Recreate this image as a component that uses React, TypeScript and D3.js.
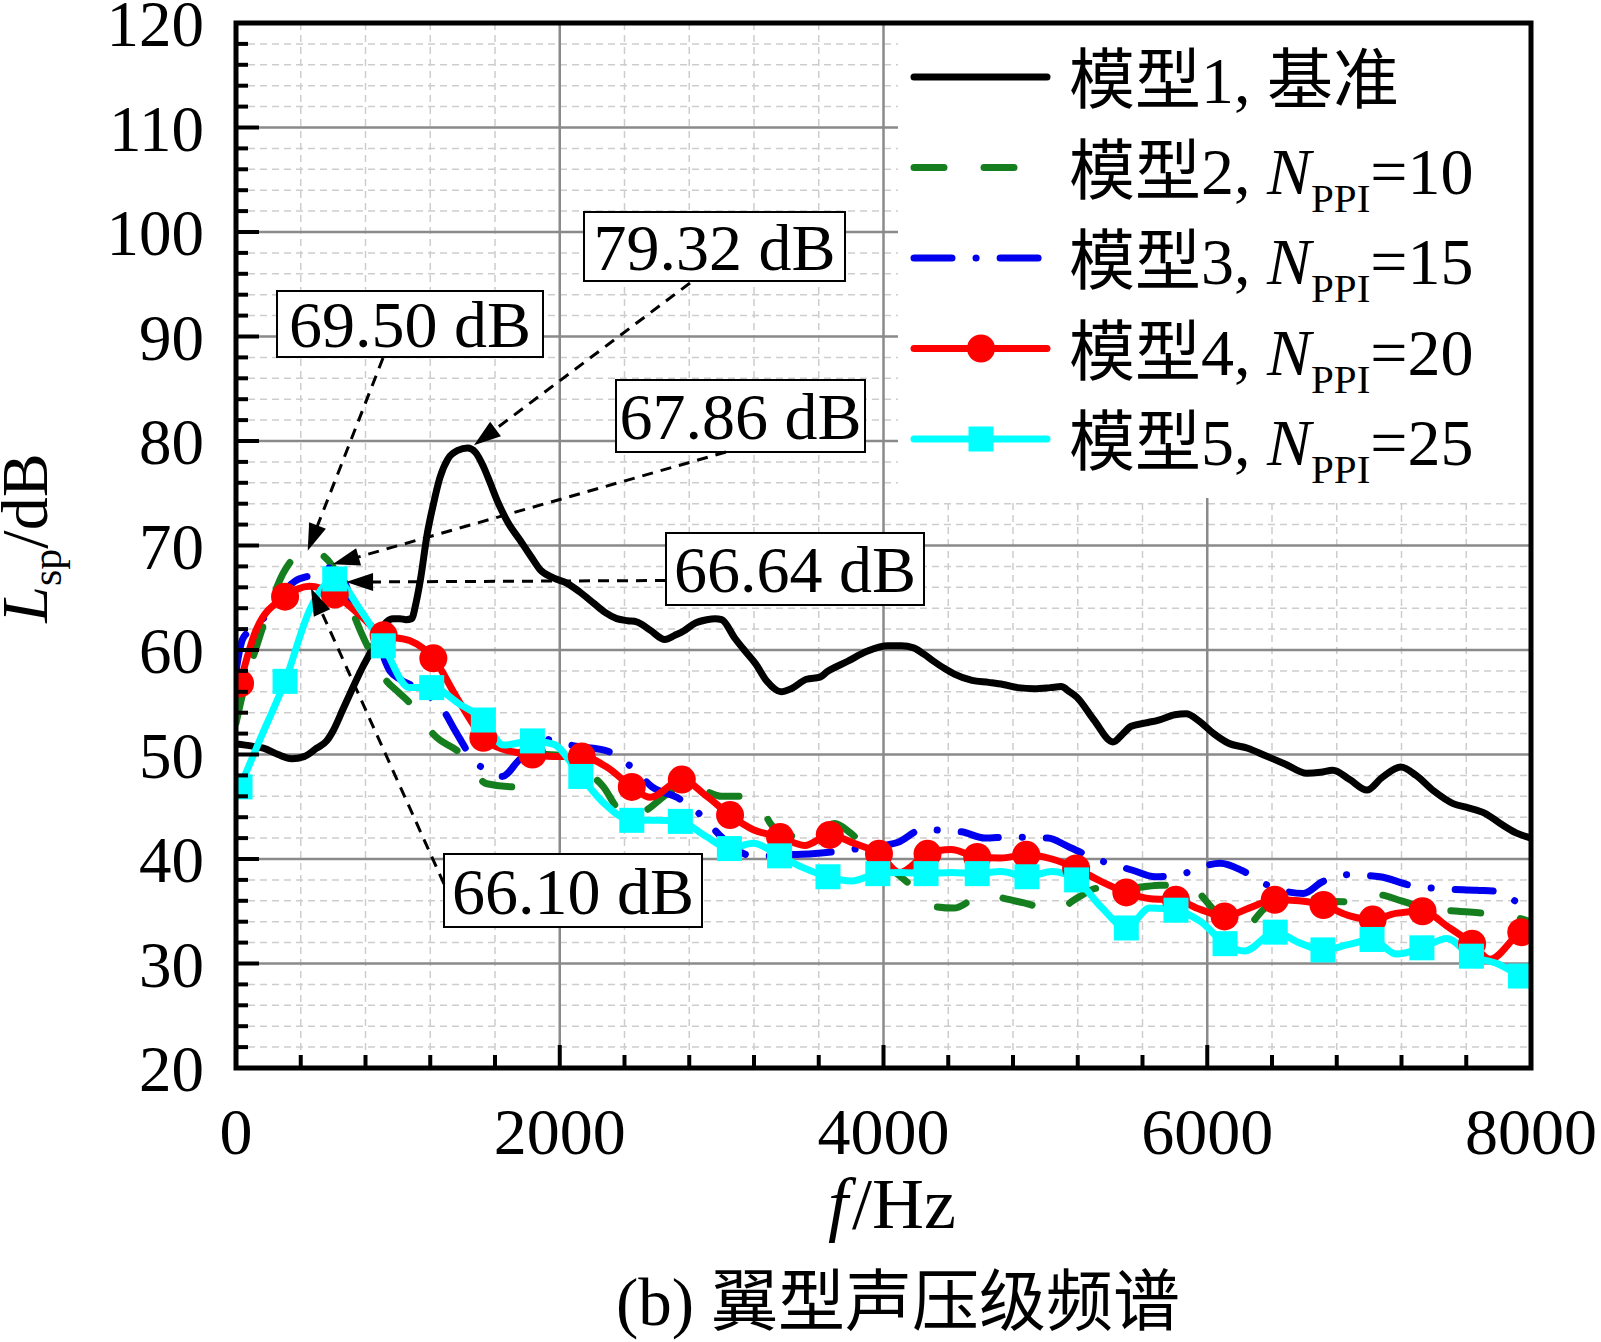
import React from 'react';
import * as d3 from 'd3';

// ---- data ----
const xMajor = [0, 2000, 4000, 6000, 8000];
const yMajor = [20, 30, 40, 50, 60, 70, 80, 90, 100, 110, 120];

// model 1, baseline
const model1: [number, number][] = [
  [0, 51.0], [100, 50.8], [169, 50.6], [260, 50.0], [344, 49.6], [420, 49.8], [498, 50.6], [560, 51.3],
  [601, 52.3], [660, 54.3], [725, 56.5], [780, 58.3], [828, 59.7], [880, 61.5], [931, 62.7], [970, 63.0],
  [1013, 63.0], [1050, 62.9], [1085, 63.0], [1112, 64.5], [1140, 66.8], [1180, 71.0], [1220, 74.0],
  [1260, 76.5], [1310, 78.3], [1370, 79.1], [1431, 79.32], [1480, 78.9], [1530, 77.5], [1570, 76.0],
  [1611, 74.4], [1680, 72.2], [1755, 70.5], [1820, 69.0], [1878, 67.7], [1960, 66.9], [2043, 66.4],
  [2120, 65.6], [2208, 64.5], [2280, 63.6], [2352, 63.0], [2420, 62.8], [2475, 62.7], [2558, 61.9],
  [2650, 61.0], [2710, 61.4], [2763, 61.8], [2840, 62.6], [2908, 62.9], [2960, 63.0], [3000, 62.9],
  [3083, 61.1], [3150, 59.8], [3209, 58.7], [3280, 57.0], [3367, 56.0], [3430, 56.3], [3524, 57.2],
  [3608, 57.4], [3650, 57.9], [3776, 58.9], [3902, 59.9], [4028, 60.4], [4110, 60.4], [4186, 60.2],
  [4250, 59.6], [4312, 58.9], [4380, 58.2], [4438, 57.7], [4547, 57.1], [4650, 56.9], [4739, 56.7],
  [4830, 56.4], [4934, 56.3], [5030, 56.4], [5097, 56.5], [5150, 56.0], [5193, 55.5], [5300, 53.3],
  [5418, 51.2], [5480, 52.0], [5530, 52.7], [5613, 53.0], [5700, 53.3], [5800, 53.8], [5869, 53.9],
  [5950, 53.2], [6040, 52.0], [6129, 51.1], [6250, 50.6], [6357, 49.9], [6480, 49.1], [6615, 48.2],
  [6700, 48.3], [6776, 48.5], [6880, 47.6], [6986, 46.6], [7080, 47.8], [7196, 48.8], [7290, 48.0],
  [7400, 46.5], [7519, 45.3], [7613, 44.9], [7713, 44.4], [7810, 43.4], [7908, 42.5], [8000, 42.0],
];

// model 2, NPPI = 10
const model2: [number, number][] = [
  [0, 53.0], [60, 57.0], [124, 60.2], [200, 63.8], [290, 67.3], [370, 69.0], [445, 69.5], [519, 69.2],
  [597, 68.0], [680, 65.2], [778, 61.5], [824, 60.0], [927, 57.1], [1000, 56.0], [1075, 54.9],
  [1160, 53.0], [1242, 51.6], [1384, 50.1], [1470, 48.3], [1550, 47.2], [1724, 46.9], [1820, 49.0],
  [1920, 50.0], [2100, 49.5], [2200, 48.0], [2270, 46.9], [2354, 44.9], [2440, 44.0], [2537, 44.7],
  [2691, 46.5], [2800, 47.0], [2900, 46.5], [2999, 46.0], [3154, 46.0], [3240, 45.0], [3318, 43.1],
  [3485, 42.1], [3600, 42.6], [3700, 43.4], [3787, 42.6], [3900, 41.0], [4028, 39.3], [4189, 37.2],
  [4300, 35.5], [4433, 35.3], [4627, 36.7], [4750, 36.2], [4868, 35.8], [5063, 35.1], [5200, 36.3],
  [5322, 37.2], [5449, 37.2], [5580, 37.3], [5709, 37.5], [5894, 37.3], [6050, 35.0], [6151, 33.7],
  [6213, 33.2], [6350, 35.2], [6491, 36.7], [6594, 36.5], [6720, 36.0], [6862, 35.9], [7047, 36.6],
  [7200, 36.0], [7350, 35.3], [7550, 35.0], [7714, 34.8], [7908, 34.4], [8000, 34.0],
];

// model 3, NPPI = 15
const model3: [number, number][] = [
  [0, 58.0], [40, 61.0], [100, 62.0], [169, 63.0], [260, 65.0], [365, 66.6], [476, 67.2], [560, 67.86],
  [642, 67.4], [723, 64.3], [846, 62.0], [951, 58.0], [1013, 57.2], [1100, 56.5], [1200, 55.5],
  [1282, 54.2], [1353, 52.3], [1477, 49.3], [1600, 48.2], [1643, 47.9], [1750, 49.5], [1900, 51.5],
  [1983, 51.2], [2100, 50.8], [2280, 50.4], [2465, 48.5], [2570, 46.9], [2723, 45.9], [2885, 44.0],
  [3000, 42.1], [3163, 40.4], [3280, 40.3], [3400, 40.4], [3560, 40.5], [3700, 40.7], [3850, 41.0],
  [3970, 41.2], [4090, 41.6], [4238, 42.8], [4479, 42.6], [4627, 42.0], [4773, 42.1], [5015, 42.0],
  [5140, 41.2], [5296, 40.1], [5544, 38.9], [5678, 38.3], [5821, 38.5], [6080, 39.6], [6215, 38.9],
  [6345, 37.7], [6594, 36.7], [6709, 37.8], [6870, 38.5], [7068, 38.3], [7250, 37.5], [7406, 37.2],
  [7665, 37.0], [7794, 36.9], [7900, 36.0], [8000, 34.7],
];

// model 4, NPPI = 20 (markers on even entries)
const model4: [number, number][] = [
  [25, 56.8], [124, 61.9], [303, 65.1], [455, 66.1], [610, 65.3], [775, 63.2], [912, 61.4], [1072, 60.9],
  [1219, 59.2], [1373, 55.2], [1528, 51.6], [1672, 50.4], [1831, 50.0], [1981, 49.8], [2136, 49.8],
  [2290, 48.8], [2445, 46.9], [2560, 45.9], [2754, 47.6], [2908, 46.0], [3052, 44.2], [3196, 42.8],
  [3361, 42.1], [3513, 41.3], [3668, 42.3], [3818, 41.5], [3972, 40.5], [4100, 38.7], [4272, 40.5],
  [4417, 40.9], [4579, 40.2], [4724, 40.1], [4882, 40.4], [5040, 40.0], [5190, 39.1], [5338, 37.9],
  [5500, 36.8], [5650, 36.2], [5806, 36.1], [5952, 35.2], [6107, 34.5], [6258, 35.3], [6417, 36.1],
  [6567, 36.0], [6718, 35.6], [6870, 34.6], [7022, 34.2], [7164, 34.8], [7330, 35.0], [7488, 33.5],
  [7636, 31.9], [7747, 30.4], [7940, 33.0], [8000, 33.3],
];

// model 5, NPPI = 25 (markers on even entries)
const model5: [number, number][] = [
  [25, 46.9], [150, 51.5], [303, 57.0], [460, 64.0], [610, 66.8], [770, 63.8], [910, 60.4], [1071, 56.4],
  [1209, 56.4], [1384, 54.8], [1528, 53.3], [1652, 50.9], [1831, 51.3], [1960, 51.0], [2130, 47.9],
  [2269, 45.4], [2445, 43.7], [2600, 43.7], [2745, 43.6], [2900, 42.2], [3048, 41.0], [3196, 41.5],
  [3358, 40.3], [3500, 39.2], [3657, 38.3], [3804, 37.9], [3965, 38.6], [4110, 38.7], [4263, 38.6],
  [4420, 38.7], [4579, 38.6], [4730, 38.8], [4886, 38.3], [5040, 38.8], [5193, 38.0], [5345, 35.4],
  [5500, 33.4], [5645, 35.3], [5807, 35.1], [5960, 34.0], [6110, 31.9], [6230, 31.2], [6420, 33.0],
  [6567, 32.0], [6715, 31.3], [6870, 31.8], [7018, 32.3], [7170, 30.9], [7326, 31.5], [7480, 32.4],
  [7632, 30.7], [7790, 30.0], [7935, 28.8], [8000, 28.3],
];

const modelNames = ['模型1', '模型2', '模型3', '模型4', '模型5'];
const nppiValues = [null, 10, 15, 20, 25];

const annLabels = ['79.32 dB', '69.50 dB', '67.86 dB', '66.64 dB', '66.10 dB'];
const annTips: [number, number][] = [[1470, 79.6], [443, 69.5], [597, 68.2], [680, 66.5], [463, 65.9]];

// ---- layout ----
const W = 1601;
const H = 1342;
const plot = { left: 236, right: 1531, top: 23, bottom: 1068 };
const annBoxes = [
  { x: 584, y: 212, w: 261, h: 69, sx: 690, sy: 283 },
  { x: 277, y: 291, w: 266, h: 66, sx: 383, sy: 358 },
  { x: 616, y: 380, w: 249, h: 72, sx: 726, sy: 452 },
  { x: 666, y: 533, w: 258, h: 72, sx: 666, sy: 580.5 },
  { x: 444, y: 854, w: 258, h: 73, sx: 444, sy: 884 },
];
const serif = "'Liberation Serif', 'Times New Roman', 'Noto Sans CJK SC', serif";

const styles = [
  { color: '#000000', dash: undefined as string | undefined, marker: null as null | string },
  { color: '#157f1f', dash: '30 40', marker: null },
  { color: '#0000ee', dash: '38 24 0.1 24', marker: null },
  { color: '#ff0000', dash: undefined, marker: 'circle' },
  { color: '#00ffff', dash: undefined, marker: 'square' },
];

const App: React.FC = () => {
  const x = d3.scaleLinear().domain([0, 8000]).range([plot.left, plot.right]);
  const y = d3.scaleLinear().domain([20, 120]).range([plot.bottom, plot.top]);

  const line = d3.line<[number, number]>()
    .x(d => x(d[0]))
    .y(d => y(d[1]))
    .curve(d3.curveMonotoneX);

  const series = [model1, model2, model3, model4, model5];

  const xMinor = d3.range(0, 8001, 400).filter(v => !xMajor.includes(v));
  const yMinor = d3.range(20, 121, 2).filter(v => !yMajor.includes(v));

  const marker = (kind: string | null, cx: number, cy: number, color: string, key: string | number) => {
    if (kind === 'circle') return <circle key={key} cx={cx} cy={cy} r={14} fill={color} />;
    if (kind === 'square') return <rect key={key} x={cx - 12.5} y={cy - 12.5} width={25} height={25} fill={color} />;
    return null;
  };

  const arrowHead = (sx: number, sy: number, tx: number, ty: number) => {
    const a = Math.atan2(ty - sy, tx - sx);
    const L = 27, hw = 9;
    const bx = tx - L * Math.cos(a), by = ty - L * Math.sin(a);
    const px = -Math.sin(a) * hw, py = Math.cos(a) * hw;
    return `M${tx},${ty}L${bx + px},${by + py}L${bx - px},${by - py}Z`;
  };

  const legendTop = 77;
  const legendStep = 90.5;

  return (
    <svg width={W} height={H} style={{ position: 'absolute', left: 0, top: 0, background: '#fff' }}
      fontFamily={serif}>
      <defs>
        <clipPath id="plotClip">
          <rect x={plot.left} y={plot.top} width={plot.right - plot.left} height={plot.bottom - plot.top} />
        </clipPath>
      </defs>
      <rect x={0} y={0} width={W} height={H} fill="#fff" />

      {/* grid */}
      <g>
        {xMinor.map(v => (
          <line key={'gxm' + v} x1={x(v)} x2={x(v)} y1={plot.top} y2={plot.bottom}
            stroke="#cdcdcd" strokeWidth={1.5} strokeDasharray="7 5" />
        ))}
        {yMinor.map(v => (
          <line key={'gym' + v} x1={plot.left} x2={plot.right} y1={y(v)} y2={y(v)}
            stroke="#cdcdcd" strokeWidth={1.5} strokeDasharray="7 5" />
        ))}
        {xMajor.map(v => (
          <line key={'gx' + v} x1={x(v)} x2={x(v)} y1={plot.top} y2={plot.bottom} stroke="#8a8a8a" strokeWidth={2.5} />
        ))}
        {yMajor.map(v => (
          <line key={'gy' + v} x1={plot.left} x2={plot.right} y1={y(v)} y2={y(v)} stroke="#8a8a8a" strokeWidth={2.5} />
        ))}
      </g>

      {/* legend background */}
      <rect x={898} y={plot.top} width={plot.right - 898} height={498 - plot.top} fill="#fff" />

      {/* annotation boxes */}
      {annBoxes.map((b, i) => (
        <g key={'box' + i}>
          <rect x={b.x} y={b.y} width={b.w} height={b.h} fill="#fff" stroke="#000" strokeWidth={2} />
          <text x={b.x + b.w / 2} y={b.y + b.h / 2 + 23} textAnchor="middle" fontSize={66}>{annLabels[i]}</text>
        </g>
      ))}

      {/* series */}
      <g clipPath="url(#plotClip)">
        {series.map((s, i) => (
          <path key={'s' + i} d={line(s) || ''} fill="none" stroke={styles[i].color} strokeWidth={7}
            strokeDasharray={styles[i].dash} strokeLinecap="round" strokeLinejoin="round" />
        ))}
        {series.map((s, i) => styles[i].marker
          ? s.filter((_, j) => j % 2 === 0 && s[j][0] < 7990).map((d, j) =>
              marker(styles[i].marker, x(d[0]), y(d[1]), styles[i].color, 'm' + i + '-' + j))
          : null)}
      </g>

      {/* annotation arrows */}
      {annBoxes.map((b, i) => {
        const tx = x(annTips[i][0]);
        const ty = y(annTips[i][1]);
        const a = Math.atan2(ty - b.sy, tx - b.sx);
        return (
          <g key={'arr' + i}>
            <line x1={b.sx} y1={b.sy} x2={tx - 20 * Math.cos(a)} y2={ty - 20 * Math.sin(a)}
              stroke="#000" strokeWidth={3} strokeDasharray="11 8" />
            <path d={arrowHead(b.sx, b.sy, tx, ty)} fill="#000" />
          </g>
        );
      })}

      {/* frame and ticks */}
      <rect x={plot.left} y={plot.top} width={plot.right - plot.left} height={plot.bottom - plot.top}
        fill="none" stroke="#000" strokeWidth={5} />
      {xMinor.map(v => (
        <line key={'txm' + v} x1={x(v)} x2={x(v)} y1={plot.bottom} y2={plot.bottom - 13} stroke="#000" strokeWidth={4} />
      ))}
      {xMajor.map(v => (
        <line key={'tx' + v} x1={x(v)} x2={x(v)} y1={plot.bottom} y2={plot.bottom - 23} stroke="#000" strokeWidth={4} />
      ))}
      {yMinor.map(v => (
        <line key={'tym' + v} x1={plot.left} x2={plot.left + 12} y1={y(v)} y2={y(v)} stroke="#000" strokeWidth={4} />
      ))}
      {yMajor.map(v => (
        <line key={'ty' + v} x1={plot.left} x2={plot.left + 23} y1={y(v)} y2={y(v)} stroke="#000" strokeWidth={4} />
      ))}

      {/* tick labels */}
      {xMajor.map(v => (
        <text key={'lx' + v} x={x(v)} y={1154} textAnchor="middle" fontSize={66}>{v}</text>
      ))}
      {yMajor.map(v => (
        <text key={'ly' + v} x={204} y={y(v) + 23} textAnchor="end" fontSize={65}>{v}</text>
      ))}

      {/* axis titles */}
      <text x={892} y={1228} textAnchor="middle" fontSize={72}>
        <tspan fontStyle="italic">f</tspan><tspan dx={4}>/Hz</tspan>
      </text>
      <text transform="translate(47,538) rotate(-90)" textAnchor="middle" fontSize={66}>
        <tspan fontStyle="italic">L</tspan>
        <tspan fontSize={42} dy={14}>sp</tspan>
        <tspan dy={-14}>/dB</tspan>
      </text>
      <text x={898} y={1325} textAnchor="middle" fontSize={67}>(b) 翼型声压级频谱</text>

      {/* legend */}
      {styles.map((st, i) => {
        const ly = legendTop + i * legendStep;
        return (
          <g key={'lg' + i}>
            <line x1={914} x2={1047} y1={ly} y2={ly} stroke={st.color} strokeWidth={7}
              strokeDasharray={st.dash} strokeLinecap="round" />
            {marker(st.marker, 981, ly, st.color, 'lm' + i)}
            <text x={1069} y={ly + 26} fontSize={66}>
              {nppiValues[i] === null ? (
                <tspan>{modelNames[i]}, 基准</tspan>
              ) : (
                <>
                  <tspan>{modelNames[i]}, </tspan>
                  <tspan fontStyle="italic">N</tspan>
                  <tspan fontSize={41} dy={18}>PPI</tspan>
                  <tspan dy={-18}>={nppiValues[i]}</tspan>
                </>
              )}
            </text>
          </g>
        );
      })}
    </svg>
  );
};

export default App;
